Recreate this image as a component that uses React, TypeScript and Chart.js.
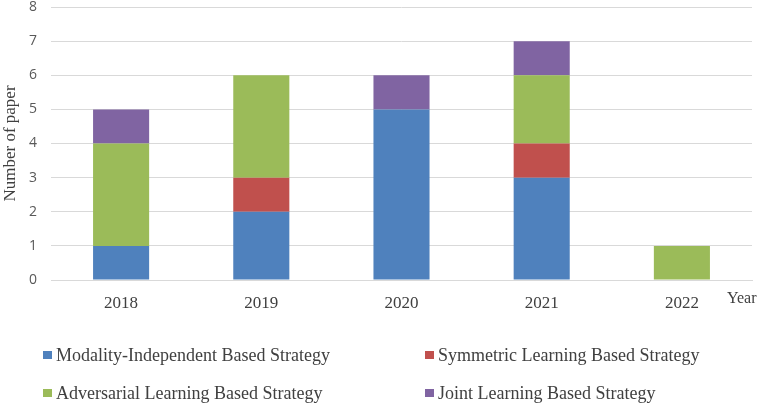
import React, { useEffect, useRef } from "react";
import Chart from "chart.js/auto";
import type { Plugin } from "chart.js";

const YEARS = ["2018", "2019", "2020", "2021", "2022"];
const MODALITY_INDEPENDENT = [1, 2, 5, 3, 0];
const SYMMETRIC = [0, 1, 0, 1, 0];
const ADVERSARIAL = [3, 3, 0, 2, 1];
const JOINT = [1, 0, 1, 1, 0];
const SERIES_LABELS = [
  "Modality-Independent Based Strategy",
  "Symmetric Learning Based Strategy",
  "Adversarial Learning Based Strategy",
  "Joint Learning Based Strategy",
];
const COLORS = ["#4F81BD", "#C0504D", "#9BBB59", "#8064A2"];

const GRID = "#D9D9D9";
const TEXT = "#404040";
const SERIF = "'Liberation Serif', 'Times New Roman', serif";

// "Year" label at the right end of the x axis + 2x2 legend underneath
const extras: Plugin<"bar"> = {
  id: "extras",
  afterDraw(c) {
    const { ctx, chartArea } = c;
    ctx.save();
    ctx.fillStyle = TEXT;
    ctx.font = `16px ${SERIF}`;
    ctx.textBaseline = "middle";
    ctx.textAlign = "left";
    ctx.fillText("Year", chartArea.right - 25, chartArea.bottom + 19);

    const cols = [43, 425];
    const rows = [355, 393];
    ctx.font = `18px ${SERIF}`;
    c.data.datasets.forEach((ds, i) => {
      const x = cols[i % 2];
      const y = rows[Math.floor(i / 2)];
      ctx.fillStyle = ds.backgroundColor as string;
      ctx.fillRect(x, y - 4, 9, 8);
      ctx.fillStyle = TEXT;
      ctx.fillText(ds.label ?? "", x + 13, y + 1);
    });
    ctx.restore();
  },
};

export default function App() {
  const canvasRef = useRef<HTMLCanvasElement | null>(null);

  useEffect(() => {
    const ctx = canvasRef.current?.getContext("2d");
    if (!ctx) return;
    const series = [MODALITY_INDEPENDENT, SYMMETRIC, ADVERSARIAL, JOINT];
    const chart = new Chart(ctx, {
      type: "bar",
      data: {
        labels: YEARS,
        datasets: series.map((data, i) => ({
          label: SERIES_LABELS[i],
          data,
          backgroundColor: COLORS[i],
          borderWidth: 0,
          barPercentage: 0.4,
          categoryPercentage: 1,
        })),
      },
      options: {
        animation: false,
        responsive: true,
        maintainAspectRatio: false,
        layout: { padding: { top: 7, right: 13, left: 0, bottom: 0 } },
        scales: {
          x: {
            stacked: true,
            grid: { display: false, drawTicks: false },
            border: { display: true, color: GRID, width: 1 },
            ticks: { color: TEXT, font: { family: SERIF, size: 17 }, padding: 13 },
            afterFit: (s: any) => {
              s.height = 124;
            },
          },
          y: {
            stacked: true,
            min: 0,
            max: 8,
            grid: { color: GRID, drawTicks: true, tickLength: 14, tickColor: "rgba(0,0,0,0)" },
            border: { display: false },
            ticks: {
              stepSize: 1,
              color: "#595959",
              font: { family: "'Open Sans', sans-serif", size: 14, lineHeight: 1 },
              padding: 0,
            },
            title: {
              display: true,
              text: "Number of paper",
              color: TEXT,
              font: { family: SERIF, size: 17 },
              padding: 0,
            },
            afterFit: (s: any) => {
              s.width = 51;
            },
          },
        },
        plugins: {
          legend: { display: false },
          tooltip: { enabled: false },
        },
      },
      plugins: [extras],
    });
    return () => chart.destroy();
  }, []);

  return (
    <div style={{ position: "absolute", left: 0, top: 0, width: 765, height: 404, background: "#fff" }}>
      <canvas ref={canvasRef} />
    </div>
  );
}
